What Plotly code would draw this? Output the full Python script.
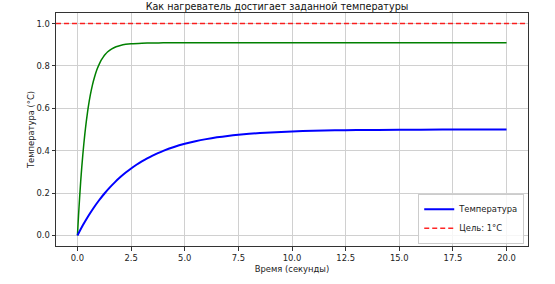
import plotly.graph_objects as go

# Blue series: temperature
t_blue = [0, 0.25, 0.5, 0.75, 1.0, 1.25, 1.5, 1.75, 2.0, 2.25, 2.5, 2.75, 3.0, 3.25, 3.5, 3.75,
          4.0, 4.5, 5.0, 5.5, 6.0, 6.5, 7.0, 7.5, 8.0, 9.0, 10.0, 11.0, 12.0, 13.0, 14.0,
          16.0, 18.0, 20.0]
temp_blue = [0, 0.0476, 0.0906, 0.1296, 0.1648, 0.1967, 0.2256, 0.2517, 0.2753, 0.2967, 0.3161,
             0.3336, 0.3494, 0.3637, 0.3767, 0.3884, 0.3991, 0.4174, 0.4323, 0.4446, 0.4546,
             0.4629, 0.4696, 0.4751, 0.4796, 0.4863, 0.4908, 0.4939, 0.4959, 0.4973, 0.4982,
             0.4992, 0.4996, 0.4998]

# Green series (unlabelled)
t_green = [0, 0.05, 0.1, 0.15, 0.2, 0.25, 0.3, 0.35, 0.4, 0.45, 0.5, 0.6, 0.7, 0.8, 0.9, 1.0,
           1.1, 1.2, 1.3, 1.4, 1.6, 1.8, 2.0, 2.25, 2.5, 3.0, 3.5, 4.0, 20.0]
temp_green = [0, 0.0936, 0.177, 0.253, 0.321, 0.381, 0.435, 0.484, 0.528, 0.567, 0.603, 0.663,
              0.711, 0.749, 0.781, 0.805, 0.826, 0.842, 0.855, 0.866, 0.881, 0.891, 0.897,
              0.902, 0.905, 0.9076, 0.9085, 0.909, 0.909]

target = 1.0
x_ticks = [0, 2.5, 5, 7.5, 10, 12.5, 15, 17.5, 20]
x_tick_labels = ["0.0", "2.5", "5.0", "7.5", "10.0", "12.5", "15.0", "17.5", "20.0"]
y_ticks = [0, 0.2, 0.4, 0.6, 0.8, 1.0]
y_tick_labels = ["0.0", "0.2", "0.4", "0.6", "0.8", "1.0"]
x_range = [-1, 21]
y_range = [-0.05, 1.05]

font = "DejaVu Sans"
fs = 8.4

fig = go.Figure()
fig.add_trace(go.Scatter(x=t_green, y=temp_green, mode="lines", showlegend=False,
                         line=dict(color="#008000", width=1.5, shape="spline", smoothing=0.5,
                                   simplify=False)))
fig.add_trace(go.Scatter(x=t_blue, y=temp_blue, mode="lines", name="Температура",
                         line=dict(color="#0000ff", width=2, shape="spline", smoothing=0.5,
                                   simplify=False)))
fig.add_trace(go.Scatter(x=x_range, y=[target, target], mode="lines", name="Цель: 1°C",
                         line=dict(color="rgba(255,0,0,0.85)", width=1.5, dash="5px,3px")))

axis_common = dict(showline=True, linecolor="#333333", linewidth=1, mirror=True,
                   showgrid=True, gridcolor="#d0d0d0", gridwidth=1, zeroline=False,
                   ticks="outside", ticklen=3.5, tickcolor="#333333",
                   tickfont=dict(family=font, size=fs, color="#222222"))

fig.update_layout(
    width=555, height=284,
    margin=dict(l=56, r=27, t=13, b=38),
    paper_bgcolor="white", plot_bgcolor="white",
    title=dict(text="Как нагреватель достигает заданной температуры",
               x=277 / 555, xanchor="center", yref="container",
               y=1 - 6.5 / 284, yanchor="middle",
               font=dict(family=font, size=9.6, color="#111111")),
    xaxis=dict(range=x_range, tickvals=x_ticks, ticktext=x_tick_labels,
               title=dict(text="Время (секунды)", font=dict(family=font, size=fs, color="#222222"),
                          standoff=4),
               **axis_common),
    yaxis=dict(range=y_range, tickvals=y_ticks, ticktext=y_tick_labels,
               title=dict(text="Температура (°C)", font=dict(family=font, size=fs, color="#222222"),
                          standoff=0),
               **axis_common),
    legend=dict(x=0.992, y=0.01, xanchor="right", yanchor="bottom",
                bgcolor="rgba(255,255,255,0.8)", bordercolor="#cccccc", borderwidth=1,
                font=dict(family=font, size=fs, color="#222222"),
                tracegroupgap=0, itemwidth=30),
    showlegend=True,
)

fig.write_html("out.html")
